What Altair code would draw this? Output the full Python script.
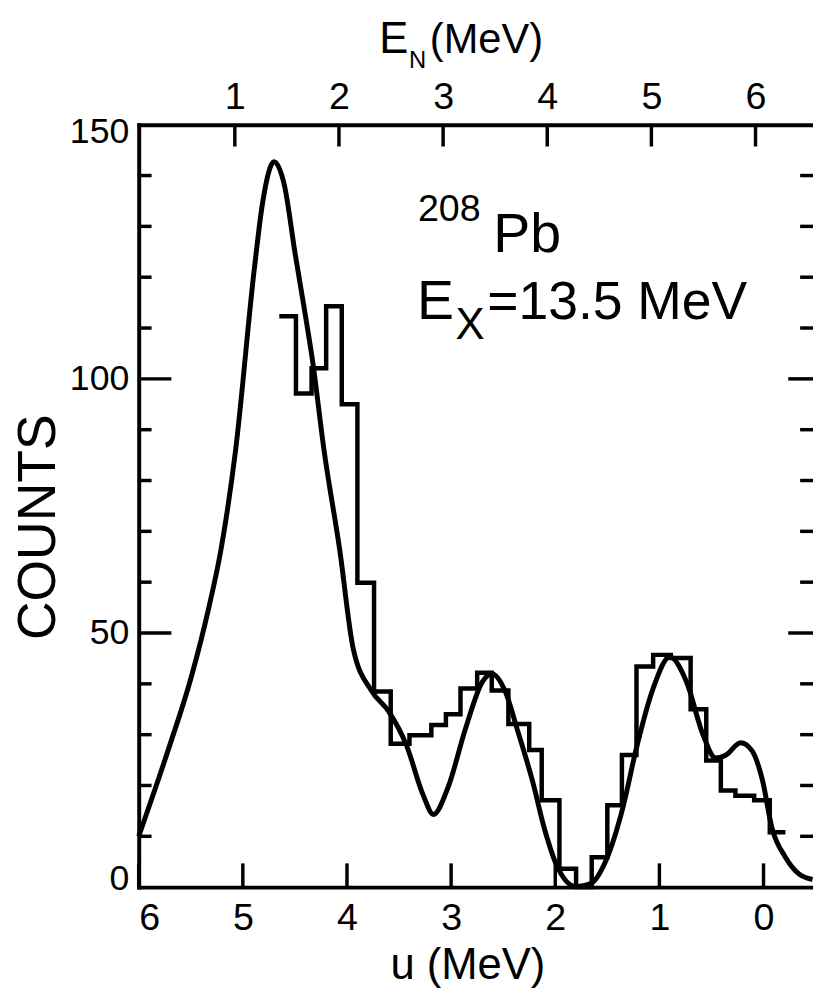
import altair as alt
import pandas as pd

FONT = "Liberation Sans"

# ---- data ----
U_TICKS = [6, 5, 4, 3, 2, 1, 0]
EN_TICKS = [1, 2, 3, 4, 5, 6]
EN_OFFSET = 6.077          # E_N = EN_OFFSET - u
Y_LABELS = [0, 50, 100, 150]
Y_MAJOR = [50, 100]
Y_MINOR = [10, 20, 30, 40, 60, 70, 80, 90, 110, 120, 130, 140]
U_DOMAIN = [-0.475, 6.0]
Y_DOMAIN = [0, 150]

# histogram: bin edges in u (MeV, decreasing) and counts per bin
HIST_EDGES_U = [4.65, 4.49, 4.34, 4.20, 4.05, 3.90, 3.74, 3.58, 3.40, 3.19,
                3.05, 2.91, 2.75, 2.61, 2.45, 2.25, 2.13, 1.96, 1.80, 1.65,
                1.50, 1.36, 1.22, 1.06, 0.89, 0.70, 0.55, 0.41, 0.27, 0.09,
                -0.06, -0.21]
HIST_COUNTS = [112.3, 97.1, 102.1, 114.3, 95.0, 59.9, 38.5, 28.2, 29.9, 31.9,
               34.0, 39.1, 42.2, 38.7, 32.1, 27.0, 17.1, 3.6, 0.0, 5.9,
               16.1, 26.0, 43.4, 45.7, 45.1, 35.0, 24.9, 19.0, 18.0, 17.1,
               10.8]

# fitted curve
CURVE_U = [6.00, 5.71, 5.50, 5.33, 5.21, 5.07, 4.89, 4.81, 4.70, 4.60,
           4.50, 4.41, 4.33, 4.22, 4.07, 3.94, 3.76, 3.60, 3.43, 3.27,
           3.17, 3.03, 2.86, 2.70, 2.61, 2.48, 2.36, 2.22, 2.10, 1.98,
           1.80, 1.66, 1.51, 1.35, 1.22, 1.06, 0.90, 0.74, 0.58, 0.46,
           0.36, 0.22, 0.11, 0.01, -0.08, -0.21, -0.34, -0.47]
CURVE_C = [10.0, 27.4, 41.0, 54.7, 66.4, 85.9, 121.6, 134.7, 142.7, 138.0,
           124.9, 113.8, 103.5, 85.9, 66.4, 46.9, 38.5, 34.6, 28.0, 18.2,
           14.3, 19.6, 31.3, 40.4, 42.0, 38.5, 30.7, 21.0, 11.2, 4.0,
           0.1, 0.7, 5.4, 15.7, 27.4, 39.1, 45.3, 40.4, 29.9, 25.4,
           26.0, 28.4, 26.8, 21.0, 11.7, 5.9, 2.6, 1.5]

W, H = 681, 770

hist_df = pd.DataFrame({
    "idx": list(range(len(HIST_EDGES_U))),
    "u": HIST_EDGES_U,
    "c": HIST_COUNTS + [HIST_COUNTS[-1]],
})
curve_df = pd.DataFrame({"idx": list(range(len(CURVE_U))), "u": CURVE_U, "c": CURVE_C})

x_scale = alt.Scale(domain=U_DOMAIN, reverse=True, nice=False, zero=False)
y_scale = alt.Scale(domain=Y_DOMAIN, nice=False, zero=False)

bottom_axis = alt.Axis(
    orient="bottom", values=U_TICKS, format="d", ticks=False, grid=False,
    domain=True, domainWidth=4, domainColor="black", domainCap="square",
    labelFont=FONT, labelFontSize=38, labelColor="black", labelPadding=13,
    labelFlush=True,
    titleFont=FONT, titleFontSize=44, titleFontWeight="normal", titleColor="black",
    titleX=332, titleY=92, titleBaseline="alphabetic", titleAlign="center",
)
left_axis = alt.Axis(
    orient="left", values=Y_LABELS, format="d", ticks=False, grid=False,
    domain=True, domainWidth=4, domainColor="black", domainCap="square",
    labelFont=FONT, labelFontSize=36, labelColor="black", labelPadding=10,
    labelFlush=True, labelFlushOffset=10,
    titleFont=FONT, titleFontSize=54, titleFontWeight="normal", titleColor="black",
    titleX=-85, titleY=406, titleAngle=270, titleBaseline="alphabetic",
    titleAlign="center",
)
top_axis = alt.Axis(
    orient="top", values=[EN_OFFSET - e for e in EN_TICKS],
    labelExpr=f"format({EN_OFFSET} - datum.value, '.0f')",
    ticks=False, grid=False,
    domain=True, domainWidth=4, domainColor="black", domainCap="square",
    labelFont=FONT, labelFontSize=38, labelColor="black", labelPadding=8,
    labelFlush=False,
)


def y_enc():
    return alt.Y("c:Q", scale=y_scale, axis=left_axis, title="COUNTS")


curve = alt.Chart(curve_df).mark_line(
    interpolate="monotone", color="black", strokeWidth=5
).encode(
    x=alt.X("u:Q", scale=x_scale, axis=bottom_axis, title="u (MeV)"),
    y=y_enc(),
    order="idx:Q",
)

hist = alt.Chart(hist_df).mark_line(
    interpolate="step-after", color="black", strokeWidth=4.5, strokeJoin="miter"
).encode(
    x=alt.X("u:Q", scale=x_scale, axis=top_axis, title=None),
    y=y_enc(),
    order="idx:Q",
)


def y_ticks(vals, x0, x1):
    return alt.Chart(pd.DataFrame({"c": vals})).mark_rule(
        color="black", strokeWidth=3.5
    ).encode(
        y=y_enc(),
        x=alt.value(x0), x2=alt.value(x1),
    )


bottom_ticks = alt.Chart(pd.DataFrame({"u": U_TICKS})).mark_rule(
    color="black", strokeWidth=3.5
).encode(
    x=alt.X("u:Q", scale=x_scale, axis=None),
    y=alt.value(H), y2=alt.value(H - 24),
)
top_ticks = alt.Chart(pd.DataFrame({"en": EN_TICKS})).transform_calculate(
    u=f"{EN_OFFSET} - datum.en"
).mark_rule(color="black", strokeWidth=3.5).encode(
    x=alt.X("u:Q", scale=x_scale, axis=None),
    y=alt.value(0), y2=alt.value(22),
)


def txt(s, x, y, size):
    return alt.Chart(pd.DataFrame({"t": [s]})).mark_text(
        align="left", baseline="alphabetic", font=FONT, fontSize=size, color="black"
    ).encode(text="t:N", x=alt.value(x), y=alt.value(y))


texts = [
    txt("208", 282, 97, 38),
    txt("Pb", 358, 129, 56),
    txt("E", 281, 196, 56),
    txt("X", 320, 216, 44),
    txt("=13.5 MeV", 352, 196, 54),
    txt("E", 243, -72, 44),
    txt("N", 273, -57, 24),
    txt("(MeV)", 294, -72, 42),
]

chart = alt.layer(
    curve, hist,
    y_ticks(Y_MAJOR, 0, 33), y_ticks(Y_MINOR, 0, 13),
    y_ticks(Y_MAJOR, W, W - 25), y_ticks(Y_MINOR, W, W - 13),
    bottom_ticks, top_ticks,
    *texts,
).resolve_axis(x="independent").properties(
    width=W, height=H,
    padding={"left": 132, "top": 113, "right": 0, "bottom": 99},
    autosize=alt.AutoSizeParams(type="none"),
    background="white",
).configure_view(stroke=None)

chart.save("out.html", embed_options={"renderer": "svg", "actions": False})
